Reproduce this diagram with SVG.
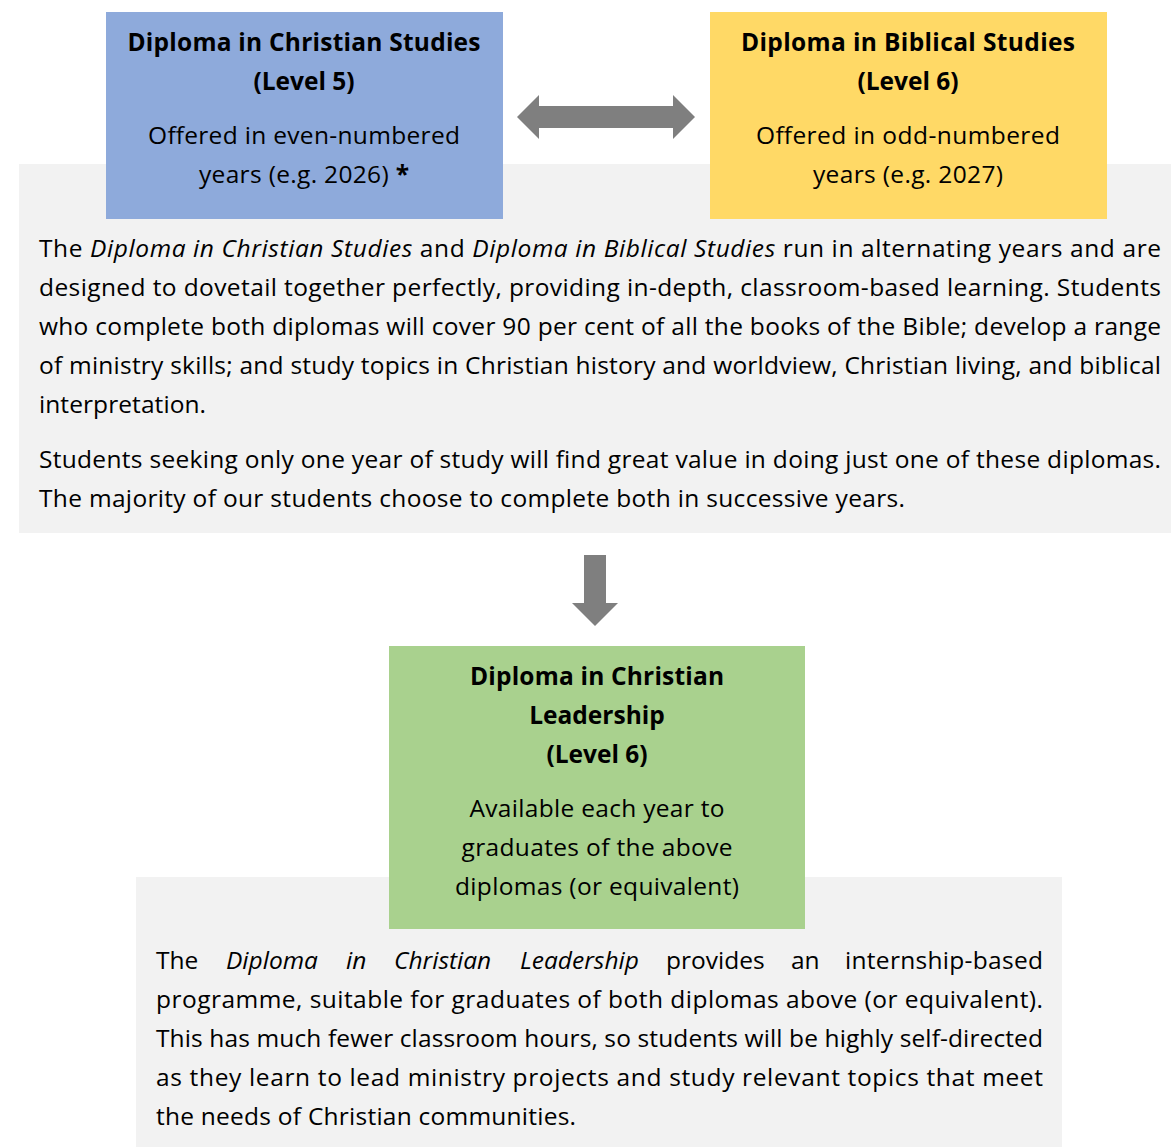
<svg xmlns="http://www.w3.org/2000/svg" width="1171" height="1147" viewBox="0 0 1171 1147">
<style>
text{font-family:"Open Sans","Noto Sans","DejaVu Sans",sans-serif;font-size:24.5px;fill:#000}
.b{font-weight:bold}
.i{font-style:italic}
.c{text-anchor:middle}
.panel{fill:#f2f2f2}
.arrow{fill:#7f7f7f}
</style>
<rect width="1171" height="1147" fill="#ffffff"/>
<g id="panel-top">
<rect class="panel" x="19" y="164" width="1152" height="369"/>
<text x="39" y="257" textLength="1122" lengthAdjust="spacing">The <tspan class="i">Diploma in Christian Studies</tspan> and <tspan class="i">Diploma in Biblical Studies</tspan> run in alternating years and are</text>
<text x="39" y="296" textLength="1122" lengthAdjust="spacing">designed to dovetail together perfectly, providing in-depth, classroom-based learning. Students</text>
<text x="39" y="335" textLength="1122" lengthAdjust="spacing">who complete both diplomas will cover 90 per cent of all the books of the Bible; develop a range</text>
<text x="39" y="374" textLength="1122" lengthAdjust="spacing">of ministry skills; and study topics in Christian history and worldview, Christian living, and biblical</text>
<text x="39" y="413" textLength="167" lengthAdjust="spacing">interpretation.</text>
<text x="39" y="468" textLength="1122" lengthAdjust="spacing">Students seeking only one year of study will find great value in doing just one of these diplomas.</text>
<text x="39" y="507" textLength="866" lengthAdjust="spacing">The majority of our students choose to complete both in successive years.</text>
</g>
<g id="node-christian-studies">
<rect x="106" y="12" width="397" height="207" fill="#8eaadb"/>
<text class="b c" x="304" y="51" textLength="353" lengthAdjust="spacing">Diploma in Christian Studies</text>
<text class="b c" x="304" y="90">(Level 5)</text>
<text class="c" x="304" y="144" textLength="312" lengthAdjust="spacing">Offered in even-numbered</text>
<text class="c" x="304" y="183" textLength="210" lengthAdjust="spacing">years (e.g. 2026) <tspan class="b">*</tspan></text>
</g>
<g id="node-biblical-studies">
<rect x="710" y="12" width="397" height="207" fill="#ffd966"/>
<text class="b c" x="908" y="51" textLength="334" lengthAdjust="spacing">Diploma in Biblical Studies</text>
<text class="b c" x="908" y="90">(Level 6)</text>
<text class="c" x="908" y="144" textLength="304" lengthAdjust="spacing">Offered in odd-numbered</text>
<text class="c" x="908" y="183" textLength="190" lengthAdjust="spacing">years (e.g. 2027)</text>
</g>
<g id="panel-bottom">
<rect class="panel" x="136" y="877" width="926" height="270"/>
<text x="156" y="969">The</text>
<text class="i" x="226" y="969">Diploma</text>
<text class="i" x="346" y="969">in</text>
<text class="i" x="394" y="969">Christian</text>
<text class="i" x="520" y="969">Leadership</text>
<text x="666" y="969">provides</text>
<text x="791" y="969">an</text>
<text x="1043" y="969" text-anchor="end" textLength="198" lengthAdjust="spacing">internship-based</text>
<text x="156" y="1008" textLength="887" lengthAdjust="spacing">programme, suitable for graduates of both diplomas above (or equivalent).</text>
<text x="156" y="1047" textLength="887" lengthAdjust="spacing">This has much fewer classroom hours, so students will be highly self-directed</text>
<text x="156" y="1086" textLength="887" lengthAdjust="spacing">as they learn to lead ministry projects and study relevant topics that meet</text>
<text x="156" y="1125" textLength="420" lengthAdjust="spacing">the needs of Christian communities.</text>
</g>
<g id="node-christian-leadership">
<rect x="389" y="646" width="416" height="283" fill="#a9d18e"/>
<text class="b c" x="597" y="685" textLength="254" lengthAdjust="spacing">Diploma in Christian</text>
<text class="b c" x="597" y="724">Leadership</text>
<text class="b c" x="597" y="763">(Level 6)</text>
<text class="c" x="597" y="817" textLength="255" lengthAdjust="spacing">Available each year to</text>
<text class="c" x="597" y="856" textLength="271" lengthAdjust="spacing">graduates of the above</text>
<text class="c" x="597" y="895" textLength="284" lengthAdjust="spacing">diplomas (or equivalent)</text>
</g>
<g id="connectors">
<polygon class="arrow" points="517,117 539,95 539,106 673,106 673,95 695,117 673,139 673,128 539,128 539,139"/>
<polygon class="arrow" points="584,555 606,555 606,603 618,603 595,626 572,603 584,603"/>
</g>
</svg>
